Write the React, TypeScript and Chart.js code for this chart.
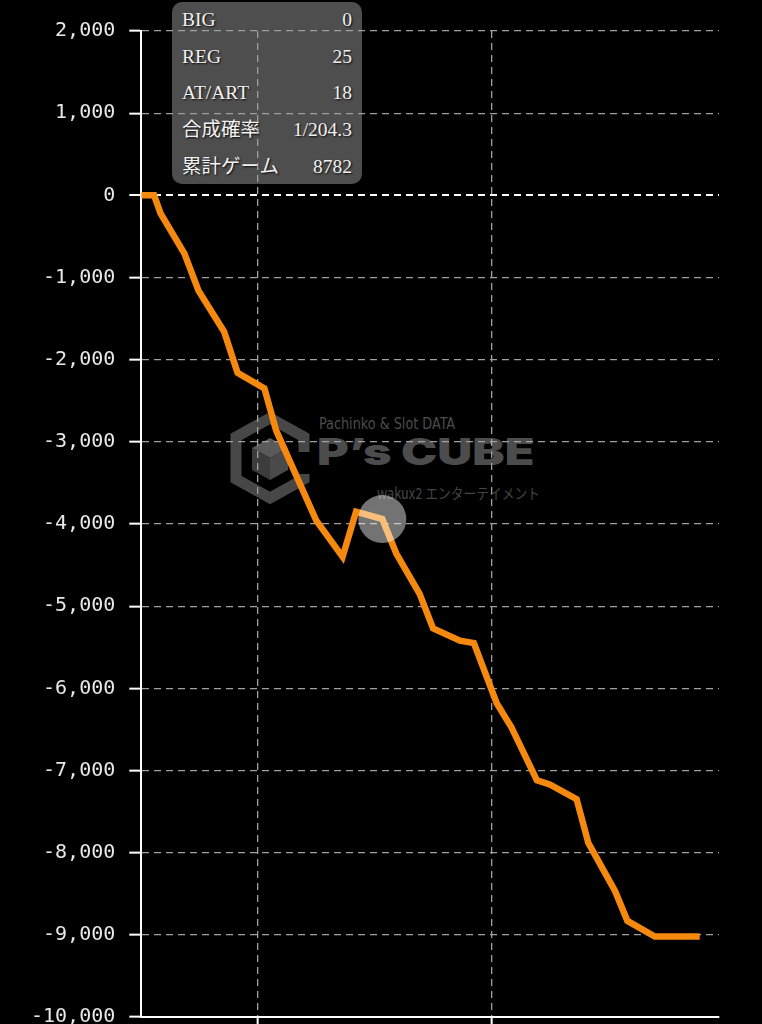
import React, { useEffect, useRef } from "react";
import { Chart, registerables } from "chart.js";

Chart.register(...registerables);

// ---- data ----
const GAMES = [0, 220, 330, 740, 980, 1420, 1650, 2110, 2310, 3000, 3450, 3680, 4130, 4370, 4770, 5000, 5460, 5700, 6090, 6340, 6780, 7000, 7460, 7660, 8120, 8330, 8800, 9570];
const DIFF = [0, 0, -220, -710, -1160, -1660, -2160, -2350, -2860, -3960, -4400, -3850, -3940, -4360, -4850, -5270, -5420, -5450, -6180, -6470, -7120, -7170, -7350, -7880, -8470, -8830, -9020, -9020];
const HOVER_INDEX = 12;
const X_GRID_TICKS = [2000, 6000];
const X_MAX = 9900;
const Y_MIN = -10000;
const Y_MAX = 2000;
const Y_STEP = 1000;
const STAT_LABELS = ["BIG", "REG", "AT/ART", "合成確率", "累計ゲーム"];
const STAT_VALUES = ["0", "25", "18", "1/204.3", "8782"];

export default function App() {
  const ref = useRef<HTMLCanvasElement>(null);

  useEffect(() => {
    const canvas = ref.current;
    if (!canvas) return;
    const chart = new Chart(canvas, {
      type: "line",
      data: {
        datasets: [
          {
            data: GAMES.map((x, i) => ({ x, y: DIFF[i] })),
            borderColor: "#f5890f",
            borderWidth: 6.5,
            tension: 0,
            fill: false,
            pointRadius: (ctx: any) => (ctx.dataIndex === HOVER_INDEX ? 24 : 0),
            pointHoverRadius: (ctx: any) => (ctx.dataIndex === HOVER_INDEX ? 24 : 0),
            pointBackgroundColor: "rgba(255,255,255,0.45)",
            pointBorderWidth: 0,
            pointBorderColor: "rgba(0,0,0,0)",
          },
        ],
      },
      options: {
        responsive: false,
        animation: false,
        events: [],
        layout: { padding: { top: 31, right: 43, bottom: 12, left: 17 } },
        plugins: { legend: { display: false }, tooltip: { enabled: false } },
        scales: {
          x: {
            type: "linear",
            min: 0,
            max: X_MAX,
            afterBuildTicks: (scale: any) => {
              scale.ticks = X_GRID_TICKS.map((v) => ({ value: v }));
            },
            ticks: { display: false },
            grid: {
              color: "#a0a0a0",
              lineWidth: 1.3,
              tickLength: 8,
              tickColor: "#ffffff",
              tickWidth: 2,
            },
            border: { display: true, color: "#ffffff", width: 2, dash: [7, 5] },
          },
          y: {
            type: "linear",
            min: Y_MIN,
            max: Y_MAX,
            ticks: {
              stepSize: Y_STEP,
              color: "#e8e8e8",
              padding: 14,
              font: { family: "'DejaVu Sans Mono', monospace", size: 20 },
            },
            grid: {
              color: (ctx: any) => (ctx.tick && ctx.tick.value === 0 ? "#ffffff" : "#a0a0a0"),
              lineWidth: (ctx: any) => (ctx.tick && ctx.tick.value === 0 ? 2 : 1.3),
              tickLength: 12,
              tickColor: "#ffffff",
              tickWidth: 2,
            },
            border: { display: true, color: "#ffffff", width: 2, dash: [7, 5] },
          },
        },
      },
    } as any);
    return () => chart.destroy();
  }, []);

  return (
    <div
      style={{
        position: "absolute",
        left: 0,
        top: 0,
        width: 762,
        height: 1024,
        overflow: "hidden",
        background: "#000",
      }}
    >
      {/* watermark */}
      <div style={{ position: "absolute", left: 228, top: 412, width: 320, height: 95, zIndex: 0 }}>
        <svg width="84" height="92" viewBox="0 0 84 92" style={{ position: "absolute", left: 0, top: 0 }}>
          <path d="M42 6 L76 25 L76 40 M76 62 L76 67 L42 86 L8 67 L8 25 L42 6" fill="none" stroke="#474747" strokeWidth="11" strokeLinejoin="miter" />
          <polygon points="42,26 60,36 42,46 24,36" fill="#5a5a5a" />
          <polygon points="24,36 42,46 42,68 24,58" fill="#3c3c3c" />
          <polygon points="42,46 60,36 60,58 42,68" fill="#4a4a4a" />
        </svg>
        <div
          style={{
            position: "absolute",
            left: 91,
            top: 3,
            fontFamily: "'Liberation Sans Narrow', 'DejaVu Sans Condensed', Roboto, sans-serif",
            fontSize: 15,
            color: "#4c4c4c",
            whiteSpace: "nowrap",
            transform: "scaleX(0.95)",
            transformOrigin: "left",
          }}
        >
          Pachinko &amp; Slot DATA
        </div>
        <div
          style={{
            position: "absolute",
            left: 89,
            top: 19,
            fontFamily: "Inter, 'Noto Sans', sans-serif",
            fontWeight: 900,
            fontSize: 37,
            lineHeight: "42px",
            color: "#4c4c4c",
            whiteSpace: "nowrap",
            transform: "scaleX(1.31)",
            transformOrigin: "left",
          }}
        >
          P’s CUBE
        </div>
        <div
          style={{
            position: "absolute",
            left: 149,
            top: 70,
            fontFamily: "'Liberation Sans Narrow', 'Noto Sans CJK JP', sans-serif",
            fontSize: 15,
            color: "#444444",
            whiteSpace: "nowrap",
            transform: "scaleX(0.85)",
            transformOrigin: "left",
          }}
        >
          wakux2 エンターテイメント
        </div>
      </div>

      {/* stats box */}
      <div
        style={{
          position: "absolute",
          left: 172,
          top: 2,
          width: 190,
          height: 182,
          borderRadius: 10,
          background: "#4e4e4e",
          zIndex: 0,
        }}
      >
        {STAT_LABELS.map((label, i) => (
          <div
            key={label}
            style={{
              position: "absolute",
              left: 10,
              right: 10,
              top: i * 36.7,
              height: 36,
              lineHeight: "36px",
              display: "flex",
              justifyContent: "space-between",
              fontFamily: "'Liberation Serif', 'Noto Sans CJK JP', serif",
              fontSize: 19.5,
              color: "#f2f2f2",
              textShadow: "1px 1px 2px rgba(0,0,0,0.9)",
              whiteSpace: "nowrap",
            }}
          >
            <span>{label}</span>
            <span>{STAT_VALUES[i]}</span>
          </div>
        ))}
      </div>

      <canvas
        ref={ref}
        width={762}
        height={1043}
        style={{ position: "absolute", left: 0, top: 0, width: 762, height: 1043, zIndex: 1 }}
      />
    </div>
  );
}
